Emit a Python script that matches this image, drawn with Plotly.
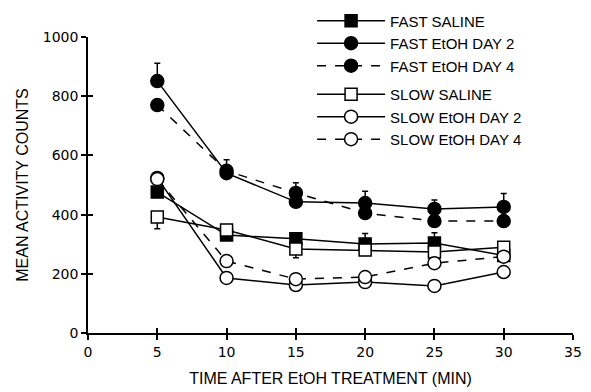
import plotly.graph_objects as go

times = [5, 10, 15, 20, 25, 30]

fast_saline = [476, 331, 318, 301, 304, 262]
fast_etoh_d2 = [851, 540, 443, 439, 419, 426]
fast_etoh_d4 = [770, 548, 473, 405, 378, 378]
slow_saline = [392, 348, 284, 280, 274, 290]
slow_etoh_d2 = [524, 186, 162, 172, 159, 206]
slow_etoh_d4 = [520, 243, 182, 189, 236, 258]

# upper / lower error values (SEM)
fast_saline_err_up = [30, 25, 0, 35, 35, 15]
fast_d2_err_up = [60, 45, 35, 40, 30, 45]
fast_d4_err_up = [0, 0, 35, 0, 0, 0]
slow_saline_err_dn = [40, 0, 30, 0, 0, 0]

x_ticks = [0, 5, 10, 15, 20, 25, 30, 35]
y_ticks = [0, 200, 400, 600, 800, 1000]

FONT = "Liberation Sans, Arial, sans-serif"
TICKFONT = "DejaVu Sans, sans-serif"

series = [
    ("FAST SALINE", fast_saline, "square", "black", "solid", "fast", fast_saline_err_up, None),
    ("FAST EtOH DAY 2", fast_etoh_d2, "circle", "black", "solid", "fast", fast_d2_err_up, None),
    ("FAST EtOH DAY 4", fast_etoh_d4, "circle", "black", "dash", "fast", fast_d4_err_up, None),
    ("SLOW SALINE", slow_saline, "square", "white", "solid", "slow", None, slow_saline_err_dn),
    ("SLOW EtOH DAY 2", slow_etoh_d2, "circle", "white", "solid", "slow", None, None),
    ("SLOW EtOH DAY 4", slow_etoh_d4, "circle", "white", "dash", "slow", None, None),
]

fig = go.Figure()
for name, vals, sym, fill, dash, grp, eup, edn in series:
    err = None
    if eup is not None or edn is not None:
        err = dict(
            type="data", symmetric=False,
            array=eup if eup is not None else [0] * len(vals),
            arrayminus=edn if edn is not None else [0] * len(vals),
            color="black", thickness=1.5, width=3,
        )
    fig.add_trace(go.Scatter(
        x=times, y=vals, name=name, mode="lines+markers",
        line=dict(color="black", width=1.5, dash=dash),
        marker=dict(symbol=sym, size=13 if sym == "circle" else 12, color=fill,
                    line=dict(color="black", width=1.5)),
        error_y=err, legendgroup=grp, cliponaxis=False,
    ))

axis_common = dict(
    showgrid=False, zeroline=False, showline=True, linecolor="black", linewidth=1.5,
    tickcolor="black", tickwidth=1.5, ticklen=5,
    tickfont=dict(family=TICKFONT, size=14, color="black"),
)

fig.update_layout(
    width=591, height=392,
    margin=dict(l=88, r=18, t=37, b=59, autoexpand=False),
    paper_bgcolor="white", plot_bgcolor="white",
    font=dict(family=FONT, color="black"),
    xaxis=dict(range=[0, 35], tickvals=x_ticks, ticks="outside",
               title=dict(text="TIME AFTER EtOH TREATMENT (MIN)", font=dict(size=16), standoff=14),
               **axis_common),
    yaxis=dict(range=[0, 1000], tickvals=y_ticks, ticks="outside",
               title=dict(text="MEAN ACTIVITY COUNTS", font=dict(size=16), standoff=10),
               **axis_common),
    xaxis2=dict(overlaying="x", matches="x", range=[0, 35], tickvals=x_ticks, ticks="inside",
                showticklabels=False, showgrid=False, zeroline=False, showline=False,
                tickcolor="black", tickwidth=1.5, ticklen=5, anchor="y", side="bottom"),
    yaxis2=dict(overlaying="y", matches="y", range=[0, 1000], tickvals=y_ticks, ticks="inside",
                showticklabels=False, showgrid=False, zeroline=False, showline=False,
                tickcolor="black", tickwidth=1.5, ticklen=5, anchor="x", side="left"),
    legend=dict(x=0.462, y=1.11, xanchor="left", yanchor="top",
                bgcolor="rgba(0,0,0,0)", font=dict(size=15, family=FONT),
                tracegroupgap=6, itemwidth=68),
    showlegend=True,
)
# invisible trace to activate the secondary tick axes
fig.add_trace(go.Scatter(x=[0], y=[0], xaxis="x2", yaxis="y2", mode="markers",
                         marker=dict(opacity=0), showlegend=False, hoverinfo="skip"))

fig.write_html("out.html", config={"displayModeBar": False},
               post_script="document.body.style.margin='0';")
